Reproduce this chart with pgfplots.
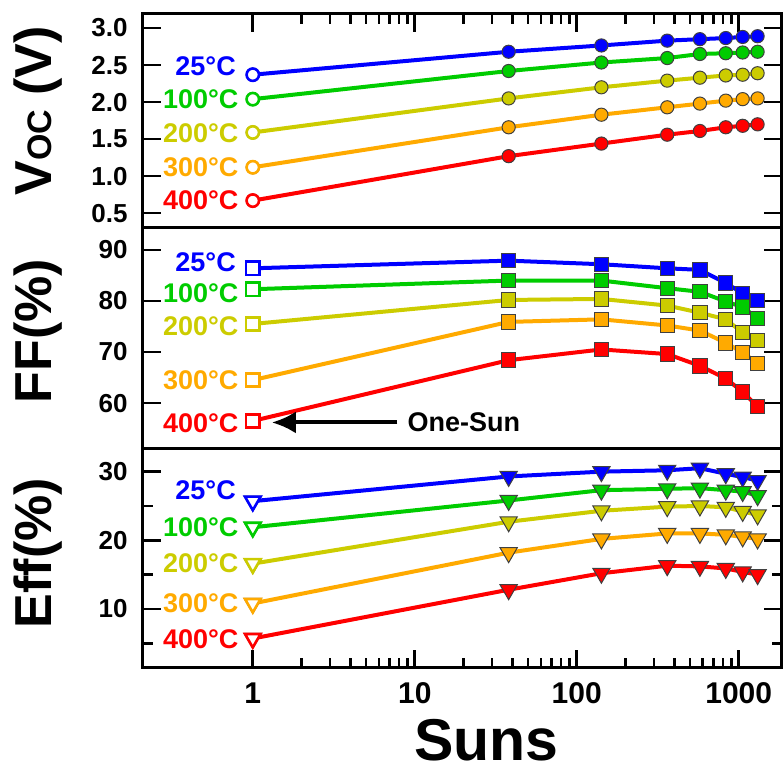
\documentclass[border=0pt]{standalone}
\usepackage{pgfplots}
\pgfplotsset{compat=1.18}
\usepackage{pgfplotstable}
\usepackage{fontspec}
\setmainfont{Liberation Sans}
\usetikzlibrary{arrows.meta}
\definecolor{cb}{RGB}{0,0,255}
\definecolor{cg}{RGB}{0,204,0}
\definecolor{cy}{RGB}{204,204,0}
\definecolor{co}{RGB}{255,170,0}
\definecolor{cr}{RGB}{255,0,0}
\newcommand\fs[1]{\fontsize{#1}{#1}\selectfont\bfseries}

\pgfplotstableread{
x    b     g     y     o     r
1    2.37  2.04  1.59  1.12  0.67
38   2.68  2.42  2.05  1.66  1.27
142  2.765 2.535 2.20  1.83  1.44
362  2.83  2.595 2.29  1.93  1.56
576  2.85  2.65  2.33  1.98  1.61
832  2.865 2.66  2.36  2.02  1.66
1058 2.88  2.67  2.37  2.04  1.68
1308 2.89  2.68  2.39  2.05  1.70
}\voc
\pgfplotstableread{
x    b     g     y     o     r
1    86.4  82.3  75.5  64.5  56.5
38   87.9  84.0  80.2  75.9  68.4
142  87.2  84.0  80.4  76.4  70.5
362  86.4  82.5  79.1  75.2  69.6
576  86.1  81.8  77.7  74.2  67.3
832  83.5  79.9  76.4  71.8  64.8
1058 81.5  78.8  73.8  69.9  62.2
1308 80.1  76.6  72.2  67.8  59.3
}\ff
\pgfplotstableread{
x    b     g     y     o     r
1    25.7  21.9  16.6  10.8  5.7
38   29.3  25.8  22.7  18.2  12.8
142  30.0  27.3  24.3  20.2  15.2
362  30.2  27.5  24.9  21.0  16.3
576  30.5  27.6  25.0  21.0  16.2
832  29.7  27.3  24.8  20.8  15.9
1058 29.2  27.1  24.2  20.5  15.4
1308 28.7  26.5  23.7  20.2  15.0
}\eff

\pgfplotsset{
 mybase/.style={
  scale only axis, width=319.5pt, xmin=0.21, xmax=1850,
  axis line style={line width=1.5pt},
  every tick/.style={black, line width=1.3pt},
  tick align=inside, major tick length=9pt, minor tick length=5pt,
  ytick pos=both, yticklabel pos=left,
  yticklabel style={font=\fs{13}, inner sep=0pt, xshift=-7.5pt},
  xticklabel style={font=\fs{15}, inner sep=0pt, yshift=-7pt},
  clip=false,
 },
 ser/.style={color=#1, line width=2pt, mark options={fill=#1, draw=black!75, line width=0.5pt, solid}},
 first/.style={only marks, color=#1, mark options={fill=white, draw=#1, line width=1.3pt, solid}},
 serT/.style={color=#1, line width=2pt, mark=triangle*, mark size=5pt, mark options={fill=#1, draw=black!75, line width=0.5pt, solid, rotate=180}},
 firstT/.style={only marks, color=#1, mark=triangle*, mark size=4.5pt, mark options={fill=white, draw=#1, line width=1.3pt, solid, rotate=180}},
}
\tikzset{tl/.style={anchor=east, inner sep=0pt, text=#1, font=\fs{13.5}}}

\begin{document}
\begin{tikzpicture}
\path[use as bounding box] (0,0) rectangle (392pt,-387pt);

% ---------- Voc ----------
\begin{semilogxaxis}[mybase, /pgf/number format/assume math mode=true,
  at={(71.5pt,-7pt)}, anchor=north west, height=107pt,
  ymin=0.3, ymax=3.19, ytick={0.5,1,1.5,2,2.5,3},
  yticklabels={0.5,1.0,1.5,2.0,2.5,3.0},
  xtick pos=right, xtick={1,10,100,1000}, xticklabels={}]
\addplot[ser=cb, mark=*, mark size=3.3pt] table[y=b]{\voc};
\addplot[ser=cg, mark=*, mark size=3.3pt] table[y=g]{\voc};
\addplot[ser=cy, mark=*, mark size=3.3pt] table[y=y]{\voc};
\addplot[ser=co, mark=*, mark size=3.3pt] table[y=o]{\voc};
\addplot[ser=cr, mark=*, mark size=3.3pt] table[y=r]{\voc};
\addplot[first=cb, mark=*, mark size=3.1pt] coordinates {(1,2.37)};
\addplot[first=cg, mark=*, mark size=3.1pt] coordinates {(1,2.04)};
\addplot[first=cy, mark=*, mark size=3.1pt] coordinates {(1,1.59)};
\addplot[first=co, mark=*, mark size=3.1pt] coordinates {(1,1.12)};
\addplot[first=cr, mark=*, mark size=3.1pt] coordinates {(1,0.67)};
\node[tl=cb] at (axis cs:0.79,2.48) {25°C};
\node[tl=cg] at (axis cs:0.82,2.04) {100°C};
\node[tl=cy] at (axis cs:0.82,1.585) {200°C};
\node[tl=co] at (axis cs:0.82,1.115) {300°C};
\node[tl=cr] at (axis cs:0.82,0.67) {400°C};
\node[rotate=90, anchor=base, inner sep=0pt, font=\fs{26}] at ([xshift=-45.5pt]rel axis cs:0,0.547) {V{\fs{17}OC} (V)};
\end{semilogxaxis}

% ---------- FF ----------
\begin{semilogxaxis}[mybase, /pgf/number format/assume math mode=true,
  at={(71.5pt,-114pt)}, anchor=north west, height=110.5pt,
  ymin=51, ymax=94.3, ytick={60,70,80,90},
  xtick=\empty, minor xtick={}]
\addplot[ser=cb, mark=square*, mark size=3.6pt] table[y=b]{\ff};
\addplot[ser=cg, mark=square*, mark size=3.6pt] table[y=g]{\ff};
\addplot[ser=cy, mark=square*, mark size=3.6pt] table[y=y]{\ff};
\addplot[ser=co, mark=square*, mark size=3.6pt] table[y=o]{\ff};
\addplot[ser=cr, mark=square*, mark size=3.6pt] table[y=r]{\ff};
\addplot[first=cb, mark=square*, mark size=3.3pt] coordinates {(1,86.4)};
\addplot[first=cg, mark=square*, mark size=3.3pt] coordinates {(1,82.3)};
\addplot[first=cy, mark=square*, mark size=3.3pt] coordinates {(1,75.5)};
\addplot[first=co, mark=square*, mark size=3.3pt] coordinates {(1,64.5)};
\addplot[first=cr, mark=square*, mark size=3.3pt] coordinates {(1,56.5)};
\node[tl=cb] at (axis cs:0.79,87.6) {25°C};
\node[tl=cg] at (axis cs:0.82,81.6) {100°C};
\node[tl=cy] at (axis cs:0.82,75.1) {200°C};
\node[tl=co] at (axis cs:0.82,64.5) {300°C};
\node[tl=cr] at (axis cs:0.82,56.1) {400°C};
\draw[line width=2pt, -{Latex[length=12pt, width=11pt]}] (axis cs:7.8,56.2) -- (axis cs:1.31,56.2);
\node[anchor=west, inner sep=0pt, font=\fs{13.5}] at (axis cs:8.97,56.2) {One-Sun};
\node[rotate=90, anchor=base, inner sep=0pt, font=\fs{26}] at ([xshift=-45.5pt]rel axis cs:0,0.534) {FF(\%)};
\end{semilogxaxis}

% ---------- Eff ----------
\begin{semilogxaxis}[mybase, /pgf/number format/assume math mode=true,
  at={(71.5pt,-224.5pt)}, anchor=north west, height=109.5pt,
  ymin=1.4, ymax=33.3, ytick={10,20,30}, minor ytick={5,15,25},
  xtick pos=left, xtick={1,10,100,1000}, xticklabels={1,10,100,1000}]
\addplot[serT=cb] table[y=b]{\eff};
\addplot[serT=cg] table[y=g]{\eff};
\addplot[serT=cy] table[y=y]{\eff};
\addplot[serT=co] table[y=o]{\eff};
\addplot[serT=cr] table[y=r]{\eff};
\addplot[firstT=cb] coordinates {(1,25.7)};
\addplot[firstT=cg] coordinates {(1,21.9)};
\addplot[firstT=cy] coordinates {(1,16.6)};
\addplot[firstT=co] coordinates {(1,10.8)};
\addplot[firstT=cr] coordinates {(1,5.7)};
\node[tl=cb] at (axis cs:0.79,27.3) {25°C};
\node[tl=cg] at (axis cs:0.82,21.95) {100°C};
\node[tl=cy] at (axis cs:0.82,16.7) {200°C};
\node[tl=co] at (axis cs:0.82,10.9) {300°C};
\node[tl=cr] at (axis cs:0.82,5.66) {400°C};
\node[rotate=90, anchor=base, inner sep=0pt, font=\fs{26}] at ([xshift=-45.5pt]rel axis cs:0,0.525) {Eff(\%)};
\node[anchor=base, inner sep=0pt, font=\fs{29.5}] at ([yshift=-46.5pt]rel axis cs:0.537,0) {Suns};
\end{semilogxaxis}
\end{tikzpicture}
\end{document}
